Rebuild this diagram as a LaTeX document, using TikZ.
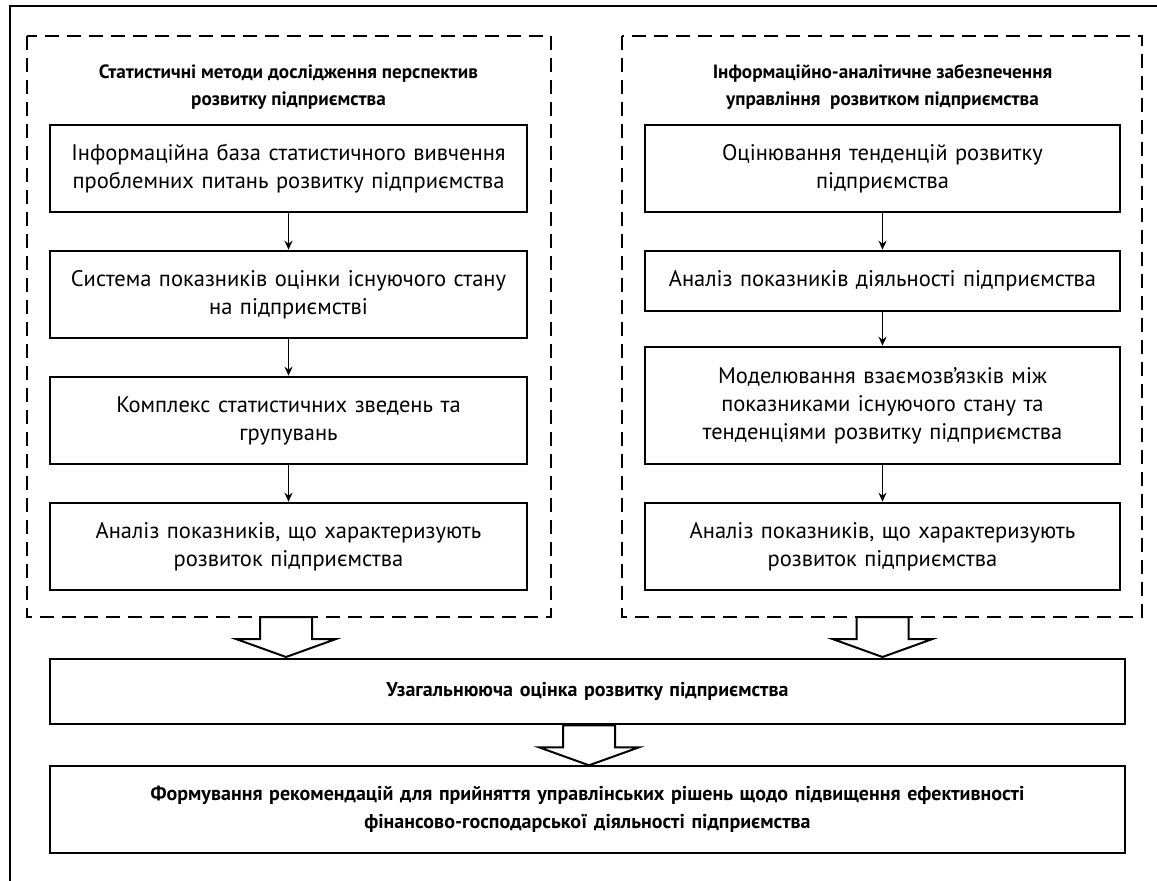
\documentclass[tikz,border=0pt]{standalone}
\usepackage{fontspec}
\setmainfont{PT Sans}
\usetikzlibrary{arrows.meta,calc}
\begin{document}
\begin{tikzpicture}[x=1pt,y=-1pt,
  box/.style={draw, line width=2.6pt, align=center, inner sep=0pt,
    font=\fontsize{22.5}{28}\selectfont, text width=465pt, minimum width=477pt},
  wide/.style={draw, line width=2.6pt, align=center, inner sep=0pt,
    font=\bfseries\fontsize{20}{28}\selectfont, text width=1060pt, minimum width=1075pt},
  title/.style={align=center, inner sep=0pt, font=\bfseries\fontsize{19.2}{27}\selectfont},
  group/.style={draw, line width=2.4pt, dash pattern=on 14pt off 8pt},
  link/.style={line width=1.5pt, -{Stealth[length=9pt,width=8pt]}},
  hollow/.style={draw, line width=2pt, fill=white, line join=miter}
]
\useasboundingbox (0,0) rectangle (1157,881);
% outer frame (cropped)
\draw[line width=2.8pt] (10,885) -- (10,6) -- (1160,6);

% dashed groups
\draw[group] (27,36) rectangle (551,617);
\draw[group] (622,36) rectangle (1142,617);
\coordinate (gL) at (286,617);
\coordinate (gR) at (882.5,617);

% titles
\node[title] (tL) at (288.5,87) {Статистичні методи дослідження перспектив\\розвитку підприємства};
\node[title] (tR) at (882.5,87) {Інформаційно-аналітичне забезпечення\\управління\ \ розвитком підприємства};

% left column
\node[box, minimum height=87pt] (L1) at (288.5,168.5) {Інформаційна база статистичного вивчення\\проблемних питань розвитку підприємства};
\node[box, minimum height=87pt] (L2) at (288.5,294.5) {Система показників оцінки існуючого стану\\на підприємстві};
\node[box, minimum height=87pt] (L3) at (288.5,420.5) {Комплекс статистичних зведень та\\групувань};
\node[box, minimum height=87pt] (L4) at (288.5,546.5) {Аналіз показників, що характеризують\\розвиток підприємства};

% right column
\node[box, minimum width=475pt, minimum height=87pt] (R1) at (882.5,168.5) {Оцінювання тенденцій розвитку\\підприємства};
\node[box, minimum width=475pt, minimum height=60pt] (R2) at (882.5,281) {Аналіз показників діяльності підприємства};
\node[box, minimum width=475pt, minimum height=117pt] (R3) at (882.5,405.5) {Моделювання взаємозв’язків між\\показниками існуючого стану та\\тенденціями розвитку підприємства};
\node[box, minimum width=475pt, minimum height=87pt] (R4) at (882.5,546.5) {Аналіз показників, що характеризують\\розвиток підприємства};

\draw[link] (L1) -- (L2);
\draw[link] (L2) -- (L3);
\draw[link] (L3) -- (L4);
\draw[link] (R1) -- (R2);
\draw[link] (R2) -- (R3);
\draw[link] (R3) -- (R4);

% bottom boxes
\node[wide, minimum height=65pt] (B1) at (587.5,691.5) {Узагальнююча оцінка розвитку підприємства};
\node[wide, minimum height=87pt] (B2) at (587.5,809.5) {Формування рекомендацій для прийняття управлінських рішень щодо підвищення ефективності\\фінансово-господарської діяльності підприємства};

% hollow arrows
\path[hollow] ($(gL)+(-26,0)$) -- ($(gL)+(26,0)$) -- ($(gL)+(26,22)$) -- ($(gL)+(50,22)$)
  -- ($(gL)+(0,40)$) -- ($(gL)+(-50,22)$) -- ($(gL)+(-26,22)$) -- cycle;
\path[hollow] ($(gR)+(-26,0)$) -- ($(gR)+(26,0)$) -- ($(gR)+(26,22)$) -- ($(gR)+(50,22)$)
  -- ($(gR)+(0,40)$) -- ($(gR)+(-50,22)$) -- ($(gR)+(-26,22)$) -- cycle;
\coordinate (bA) at ($(B1.south)+(1.5,0)$);
\path[hollow] ($(bA)+(-26,0)$) -- ($(bA)+(26,0)$) -- ($(bA)+(26,22)$) -- ($(bA)+(50,22)$)
  -- ($(bA)+(0,40)$) -- ($(bA)+(-50,22)$) -- ($(bA)+(-26,22)$) -- cycle;
\end{tikzpicture}
\end{document}
